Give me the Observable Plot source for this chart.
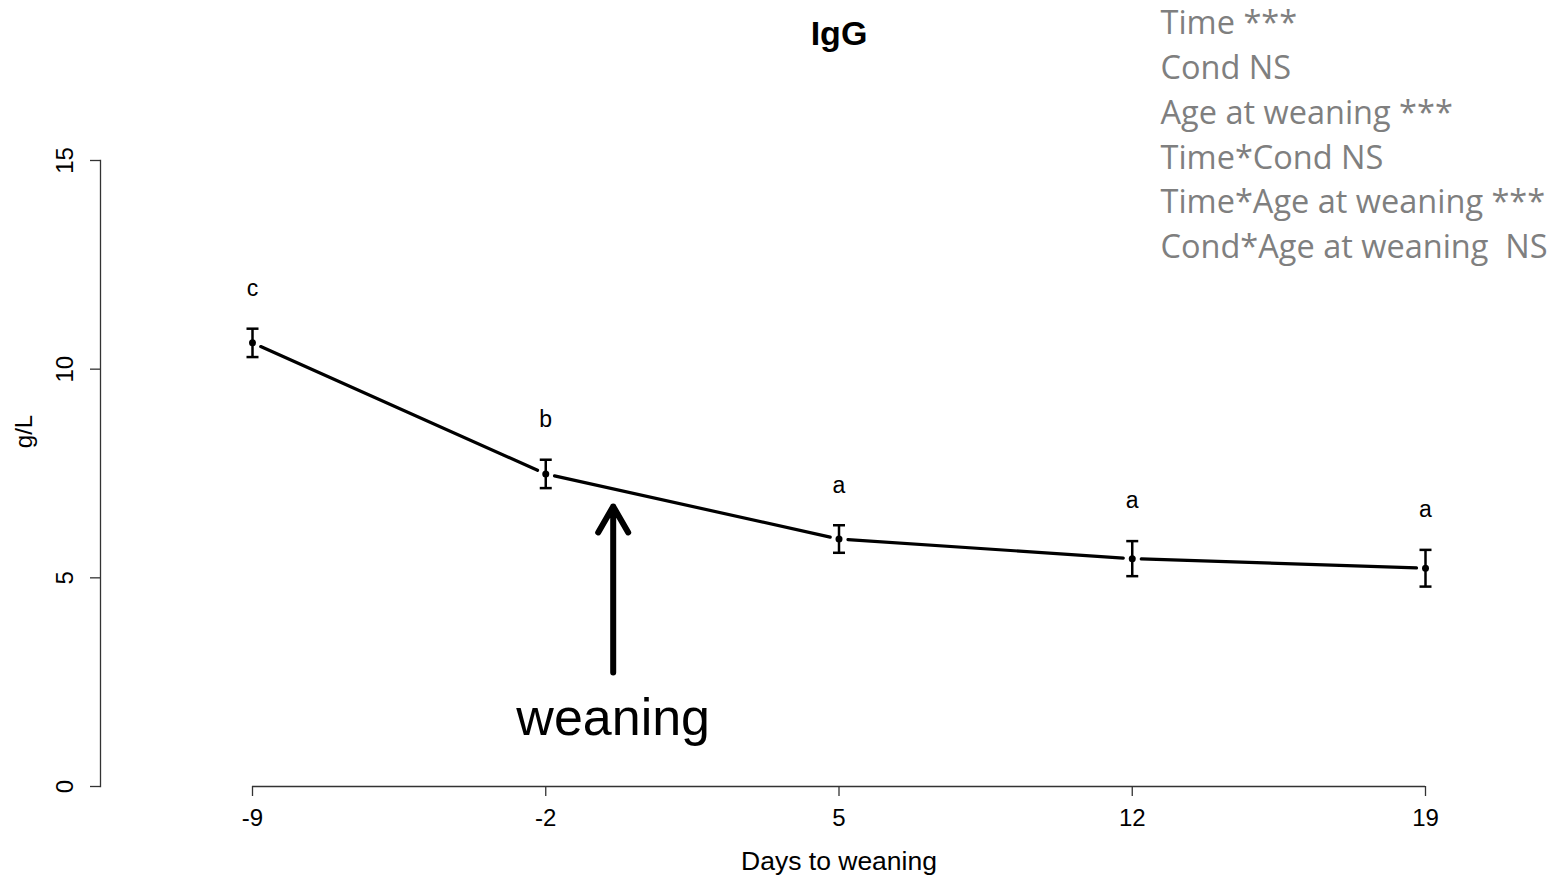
<!DOCTYPE html>
<html>
<head>
<meta charset="utf-8">
<script src="https://cdn.jsdelivr.net/npm/d3@7"></script>
<script src="https://cdn.jsdelivr.net/npm/@observablehq/plot@0.6"></script>
<style>
  html, body { margin: 0; padding: 0; background: #fff; }
  #chart svg { display: block; }
</style>
</head>
<body>
<div id="chart"></div>
<script>
// ---- data ----
const days = [-9, -2, 5, 12, 19];
const igg = [10.63, 7.49, 5.93, 5.46, 5.23];
const se = [0.34, 0.34, 0.33, 0.42, 0.44];
const letters = ["c", "b", "a", "a", "a"];
const yTicks = [0, 5, 10, 15];
const title = "IgG";
const xLabel = "Days to weaning";
const yLabel = "g/L";
const annotations = [
  "Time ***",
  "Cond NS",
  "Age at weaning ***",
  "Time*Cond NS",
  "Time*Age at weaning ***",
  "Cond*Age at weaning  NS"
];
const weaningX = [-0.39];
const weaningFrom = [2.73];
const weaningTo = [6.71];
const weaningText = ["weaning"];

// ---- build tables ----
const pts = days.map((d, i) => ({day: d, v: igg[i], lo: igg[i] - se[i], hi: igg[i] + se[i], letter: letters[i]}));
const segs = d3.pairs(pts).map(([a, b]) => ({x1: a.day, y1: a.v, x2: b.day, y2: b.v}));
const arrowRows = weaningX.map((x, i) => ({x, from: weaningFrom[i], to: weaningTo[i], text: weaningText[i]}));
const midX = (days[0] + days[days.length - 1]) / 2;

const capSymbol = {
  draw(ctx, size) {
    const r = Math.sqrt(size / Math.PI);
    ctx.moveTo(-r, 0);
    ctx.lineTo(r, 0);
  }
};

const font = "Liberation Sans, Arial, Helvetica, sans-serif";

const chart = Plot.plot({
  width: 1560,
  height: 876,
  marginLeft: 100,
  marginRight: 135,
  marginTop: 160,
  marginBottom: 90,
  style: {fontFamily: font, background: "white", color: "black"},
  x: {domain: [days[0], days[days.length - 1]], range: [252, 1425]},
  y: {domain: [yTicks[0], yTicks[yTicks.length - 1]]},
  marks: [
    // axes
    Plot.frame({anchor: "left", stroke: "#333", strokeWidth: 1.3}),
    Plot.ruleY([yTicks[0]], {x1: days[0], x2: days[days.length - 1], stroke: "#333", strokeWidth: 1.3}),
    Plot.axisX(days, {tickSize: 10, tickPadding: 12, fontSize: 24, label: null, tickFormat: d => String(d), stroke: "#333", strokeWidth: 1.3}),
    Plot.axisY(yTicks, {tickSize: 10, tickFormat: () => "", label: null, stroke: "#333", strokeWidth: 1.3}),
    Plot.text(yTicks, {y: d => d, text: d => String(d), frameAnchor: "left", dx: -35, rotate: -90, fontSize: 24, textAnchor: "middle", lineAnchor: "middle"}),
    Plot.text([yLabel], {frameAnchor: "left", dx: -76, dy: -42, rotate: -90, fontSize: 24, textAnchor: "middle", lineAnchor: "middle"}),
    Plot.text([xLabel], {x: midX, frameAnchor: "bottom", dy: 75, fontSize: 26.5, lineAnchor: "middle"}),
    Plot.text([title], {x: midX, frameAnchor: "top", dy: -126, fontSize: 34, fontWeight: "bold", lineAnchor: "middle"}),
    // data
    Plot.arrow(segs, {x1: "x1", y1: "y1", x2: "x2", y2: "y2", headLength: 0, insetStart: 9, insetEnd: 9, stroke: "black", strokeWidth: 3.2}),
    Plot.ruleX(pts, {x: "day", y1: "lo", y2: "hi", stroke: "black", strokeWidth: 2.5}),
    Plot.dot(pts, {x: "day", y: "lo", symbol: capSymbol, r: 6, stroke: "black", strokeWidth: 2.5, fill: "none"}),
    Plot.dot(pts, {x: "day", y: "hi", symbol: capSymbol, r: 6, stroke: "black", strokeWidth: 2.5, fill: "none"}),
    Plot.dot(pts, {x: "day", y: "v", r: 3.5, fill: "black", stroke: null}),
    Plot.text(pts, {x: "day", y: "hi", text: "letter", dy: -40, fontSize: 23}),
    // weaning arrow
    Plot.arrow(arrowRows, {x1: "x", x2: "x", y1: "from", y2: "to", stroke: "black", strokeWidth: 6, headLength: 7.5, headAngle: 60}),
    Plot.text(arrowRows, {x: "x", y: "from", text: "text", dy: 46, fontSize: 52}),
    // statistics annotation
    Plot.text([annotations.join("\n")], {frameAnchor: "top-right", textAnchor: "start", lineAnchor: "top", dx: -265, dy: -158, fontSize: 32.5, lineHeight: 1.378, fill: "#7f7f7f", fontFamily: "Open Sans"})
  ]
});

document.getElementById("chart").append(chart);
</script>
</body>
</html>
